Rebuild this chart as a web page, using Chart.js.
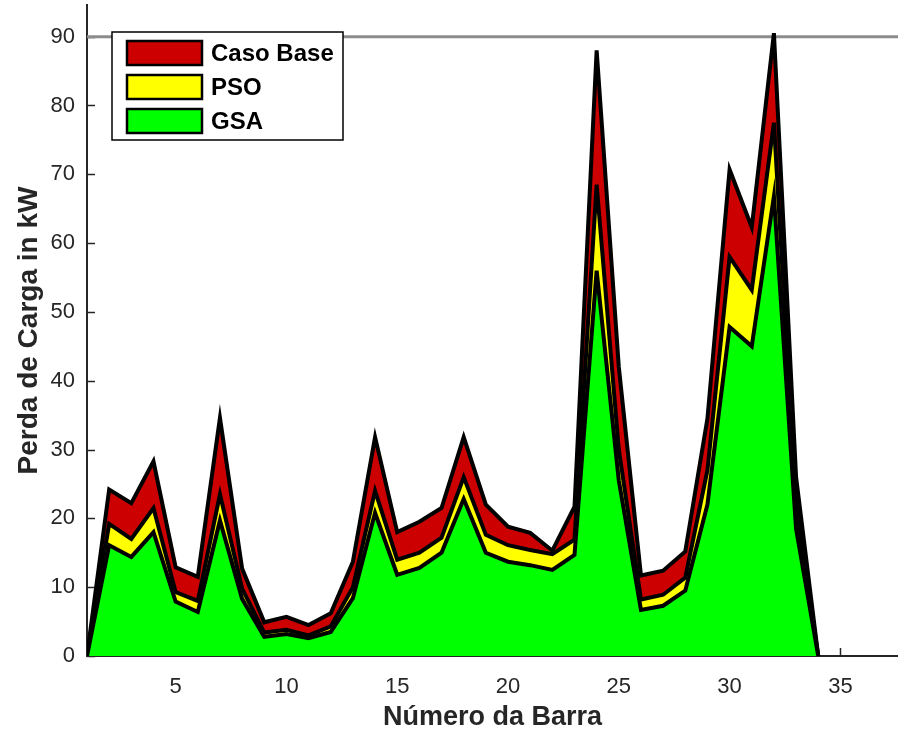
<!DOCTYPE html>
<html>
<head>
<meta charset="utf-8">
<script src="https://cdn.jsdelivr.net/npm/chart.js"></script>
<style>
  html, body { margin: 0; padding: 0; background: #fff; }
  #wrap { width: 898px; height: 734px; }
</style>
</head>
<body>
<div id="wrap"><canvas id="perdas"></canvas></div>
<script>
// dados (perda de carga por barra, kW)
const barras = [1, 2, 3, 4, 5, 6, 7, 8, 9, 10, 11, 12, 13, 14, 15, 16, 17,
                18, 19, 20, 21, 22, 23, 24, 25, 26, 27, 28, 29, 30, 31, 32, 33, 34];
const casoBase = [0, 24.2, 22.2, 28.3, 12.9, 11.5, 34.6, 12.7, 4.9, 5.7, 4.5, 6.2, 13.7,
                  31.8, 18, 19.5, 21.5, 31.8, 22, 18.8, 17.9, 15.3, 21.7, 88, 42,
                  11.7, 12.4, 15.2, 34.5, 70.7, 62.3, 90.5, 26, 0];
const pso = [0, 19.2, 17, 21.5, 9.3, 8, 23.5, 9.8, 3.4, 3.8, 3, 4.3, 10,
             24, 14, 15, 17.2, 26, 17.6, 16.1, 15.4, 14.8, 16.9, 68.5, 30,
             8.2, 8.9, 11.4, 27, 58, 53.2, 77.5, 22, 0];
const gsa = [0, 16.1, 14.4, 18, 7.9, 6.4, 19.7, 8.3, 2.8, 3.2, 2.6, 3.5, 8.4,
             20.8, 11.8, 12.8, 15, 22.8, 15, 13.7, 13.2, 12.5, 14.7, 56, 25.5,
             6.7, 7.3, 9.5, 22, 47.8, 45, 66.8, 18.5, 0];
const limite = 90;
const xTicks = [5, 10, 15, 20, 25, 30, 35];
const yTicks = [0, 10, 20, 30, 40, 50, 60, 70, 80, 90];
const xMin = 1, xMax = 37.6, yMax = 94.6;

const pontos = serie => serie.map((v, i) => ({ x: barras[i], y: v }));

const area = (label, serie, cor, ordem) => ({
    label: label,
    data: pontos(serie),
    backgroundColor: cor,
    borderColor: '#000000',
    borderWidth: 4,
    borderJoinStyle: 'miter',
    pointRadius: 0,
    tension: 0,
    fill: 'origin',
    order: ordem,
    emLegenda: true
});

const axisColor = '#262626';
const fonte = '"Liberation Sans", Arial, sans-serif';

const innerTicks = {
    id: 'innerTicks',
    beforeDatasetsDraw(chart) {
        const { ctx, scales: { x, y }, chartArea } = chart;
        ctx.save();
        ctx.strokeStyle = axisColor;
        ctx.lineWidth = 1.5;
        ctx.beginPath();
        y.ticks.forEach(t => {
            const py = Math.round(y.getPixelForValue(t.value)) + 0.5;
            ctx.moveTo(chartArea.left, py);
            ctx.lineTo(chartArea.left + 8, py);
        });
        x.ticks.forEach(t => {
            const px = Math.round(x.getPixelForValue(t.value)) + 0.5;
            ctx.moveTo(px, chartArea.bottom);
            ctx.lineTo(px, chartArea.bottom - 8);
        });
        ctx.stroke();
        ctx.restore();
    }
};

const boxLegend = {
    id: 'boxLegend',
    afterDraw(chart) {
        const { ctx } = chart;
        const items = chart.data.datasets.filter(d => d.emLegenda);
        const bx = 112, by = 32, bw = 231, bh = 108;
        ctx.save();
        ctx.fillStyle = '#ffffff';
        ctx.fillRect(bx, by, bw, bh);
        ctx.strokeStyle = '#000000';
        ctx.lineWidth = 1.5;
        ctx.strokeRect(bx, by, bw, bh);
        ctx.font = 'bold 24px ' + fonte;
        ctx.textBaseline = 'middle';
        items.forEach((d, i) => {
            const cy = 53 + i * 34;
            ctx.fillStyle = d.backgroundColor;
            ctx.fillRect(127, cy - 12, 75, 24);
            ctx.lineWidth = 2.5;
            ctx.strokeStyle = '#000000';
            ctx.strokeRect(127, cy - 12, 75, 24);
            ctx.fillStyle = '#000000';
            ctx.fillText(d.label, 211, cy + 1);
        });
        ctx.restore();
    }
};

new Chart(document.getElementById('perdas'), {
    type: 'line',
    data: {
        datasets: [
            area('Caso Base', casoBase, '#cc0000', 2),
            area('PSO', pso, '#ffff00', 1),
            area('GSA', gsa, '#00ff00', 0),
            {
                label: 'limite',
                data: [{ x: xMin, y: limite }, { x: xMax, y: limite }],
                borderColor: '#8c8c8c',
                borderWidth: 3,
                pointRadius: 0,
                fill: false,
                order: 3
            }
        ]
    },
    options: {
        responsive: true,
        maintainAspectRatio: false,
        animation: false,
        layout: { padding: { top: 5, right: 0, left: 0, bottom: 0 } },
        plugins: {
            legend: { display: false },
            tooltip: { enabled: false }
        },
        scales: {
            x: {
                type: 'linear',
                min: xMin,
                max: xMax,
                afterBuildTicks: s => { s.ticks = xTicks.map(v => ({ value: v })); },
                afterFit: s => { s.height = 78; s.paddingLeft = 0; s.paddingRight = 0; },
                grid: { display: false, drawTicks: false },
                border: { display: true, color: axisColor, width: 2 },
                ticks: {
                    padding: 18,
                    color: axisColor,
                    maxRotation: 0,
                    font: { family: fonte, size: 22 }
                },
                title: {
                    display: true,
                    text: 'Número da Barra',
                    color: axisColor,
                    padding: { top: 0, bottom: 0 },
                    font: { family: fonte, size: 27, weight: 'bold' }
                }
            },
            y: {
                min: 0,
                max: yMax,
                afterBuildTicks: s => { s.ticks = yTicks.map(v => ({ value: v })); },
                afterFit: s => { s.width = 87; s.paddingTop = 0; s.paddingBottom = 0; },
                grid: { display: false, drawTicks: false },
                border: { display: true, color: axisColor, width: 2 },
                ticks: {
                    padding: 12,
                    color: axisColor,
                    font: { family: fonte, size: 22 }
                },
                title: {
                    display: true,
                    text: 'Perda de Carga in kW',
                    color: axisColor,
                    padding: { top: 12, bottom: 0 },
                    font: { family: fonte, size: 28, weight: 'bold' }
                }
            }
        }
    },
    plugins: [innerTicks, boxLegend]
});
</script>
</body>
</html>
